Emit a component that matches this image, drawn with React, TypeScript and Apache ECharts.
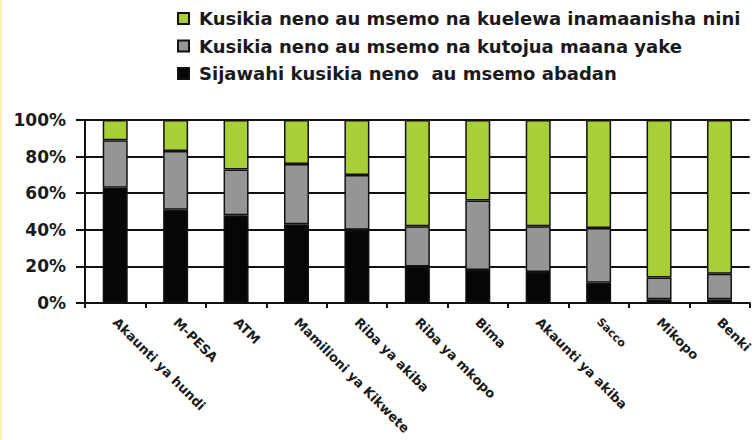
import React, { useEffect, useRef } from "react";
import * as echarts from "echarts";

const categories = [
  "Akaunti ya hundi",
  "M-PESA",
  "ATM",
  "Mamilioni ya Kikwete",
  "Riba ya akiba",
  "Riba ya mkopo",
  "Bima",
  "Akaunti ya akiba",
  "Sacco",
  "Mikopo",
  "Benki",
];

const neverHeard = [63, 51, 48, 43, 40, 20, 18, 17, 11, 2, 2];
const heardNoMeaning = [26, 32, 25, 33, 30, 22, 38, 25, 30, 12, 14];
const heardUnderstood = [11, 17, 27, 24, 30, 58, 44, 58, 59, 86, 84];

const seriesNames = [
  "Kusikia neno au msemo na kuelewa inamaanisha nini",
  "Kusikia neno au msemo na kutojua maana yake",
  "Sijawahi kusikia neno  au msemo abadan",
];

const yTicks = [0, 20, 40, 60, 80, 100];

const FONT = "DejaVu Sans";

export default function App() {
  const ref = useRef<HTMLDivElement>(null);

  useEffect(() => {
    if (!ref.current) return;
    const chart = echarts.init(ref.current, null, { renderer: "svg" });
    const border = { borderColor: "#111", borderWidth: 1.5 };
    chart.setOption({
      animation: false,
      backgroundColor: "#ffffff",
      graphic: [
        {
          type: "rect",
          left: 0,
          top: 0,
          shape: { width: 2, height: 440 },
          style: { fill: "#FFF0B5" },
          silent: true,
        },
      ],
      legend: {
        orient: "vertical",
        left: 177,
        top: 9.5,
        padding: 0,
        itemWidth: 11,
        itemHeight: 11,
        itemGap: 9.5,
        icon: "rect",
        data: seriesNames,
        textStyle: {
          fontFamily: FONT,
          fontWeight: "bold",
          fontSize: 18,
          color: "#1a1a1a",
          lineHeight: 18,
          padding: [0, 0, 0, 5],
        },
      },
      grid: { left: 85, right: 0, top: 120, bottom: 137 },
      xAxis: {
        type: "category",
        data: categories.map((c) =>
          c === "Sacco" ? { value: c, textStyle: { fontSize: 11 } } : c
        ),
        axisLine: { lineStyle: { color: "#111", width: 2 } },
        axisTick: { show: true, length: 5, lineStyle: { color: "#111", width: 2 } },
        splitLine: { show: false },
        axisLabel: {
          interval: 0,
          rotate: -45,
          margin: 17,
          fontFamily: FONT,
          fontWeight: "bold",
          fontSize: 13,
          color: "#1a1a1a",
        },
      },
      yAxis: {
        type: "value",
        min: yTicks[0],
        max: yTicks[yTicks.length - 1],
        interval: 20,
        axisLine: { show: true, lineStyle: { color: "#111", width: 2 } },
        axisTick: { show: true, length: 9, lineStyle: { color: "#111", width: 2 } },
        splitLine: { show: true, lineStyle: { color: "#111", width: 2 } },
        axisLabel: {
          formatter: "{value}%",
          margin: 19,
          fontFamily: FONT,
          fontWeight: "bold",
          fontSize: 17,
          color: "#1a1a1a",
        },
      },
      series: [
        {
          name: seriesNames[2],
          type: "bar",
          stack: "total",
          barWidth: 25,
          data: neverHeard,
          itemStyle: { color: "#060606", ...border },
        },
        {
          name: seriesNames[1],
          type: "bar",
          stack: "total",
          barWidth: 25,
          data: heardNoMeaning,
          itemStyle: { color: "#959595", ...border },
        },
        {
          name: seriesNames[0],
          type: "bar",
          stack: "total",
          barWidth: 25,
          data: heardUnderstood,
          itemStyle: { color: "#A8CF38", ...border },
        },
      ],
    });
    return () => chart.dispose();
  }, []);

  return (
    <div
      ref={ref}
      style={{ position: "fixed", left: 0, top: 0, width: 755, height: 440 }}
    />
  );
}
